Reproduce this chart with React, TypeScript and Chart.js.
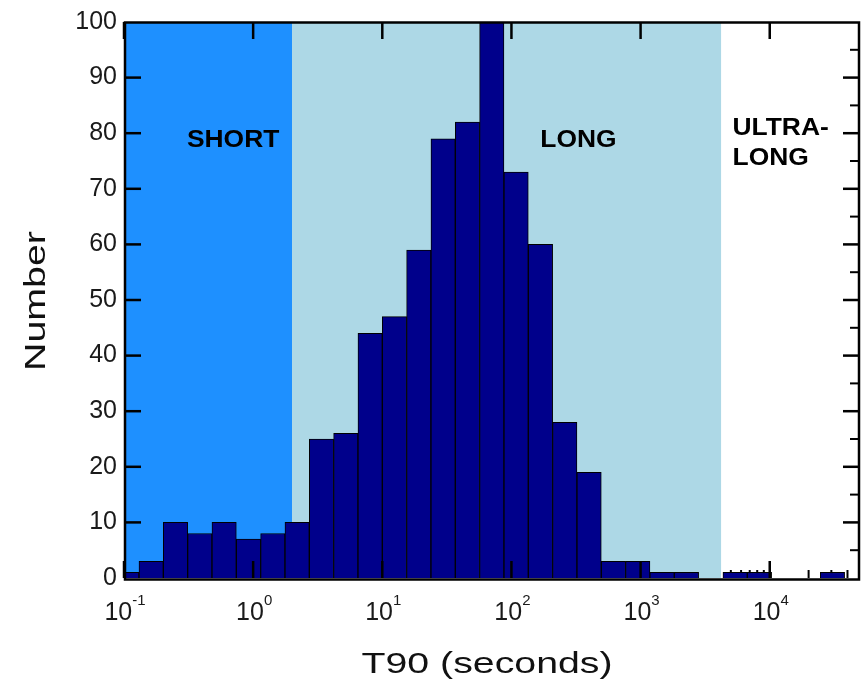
import { useEffect, useRef } from "react";
import { Chart, registerables } from "chart.js";

Chart.register(...registerables);

// Histogram bin edges, in log10(T90 / s)
const binEdgesLog10 = [
  -1.0724, -0.884, -0.6956, -0.5072, -0.3188, -0.1304, 0.058, 0.2464, 0.4348,
  0.6232, 0.8116, 1.0, 1.1884, 1.3768, 1.5652, 1.7536, 1.942, 2.1304, 2.3188,
  2.5072, 2.6956, 2.884, 3.0724, 3.2608, 3.4492, 3.6376, 3.826, 4.0144, 4.2028,
  4.3912, 4.5796, 4.768,
];
// Number of bursts in each bin
const counts = [
  1, 3, 10, 8, 10, 7, 8, 10, 25, 26, 44, 47, 59, 79, 82, 100, 73, 60, 28, 19, 3,
  3, 1, 1, 0, 1, 1, 0, 0, 1, 0,
];
const xTickExponents = [-1, 0, 1, 2, 3, 4];
const X_MIN = 0.1;
const X_MAX = 50000;
const Y_MIN = 0;
const Y_MAX = 100;
const Y_STEP = 10;
const SHORT_MAX_S = 2;
const LONG_MAX_S = 4200;
const regionLabels = [
  { text: "SHORT", x: 0.7, y: 77.5, align: "center" },
  { text: "LONG", x: 330, y: 77.5, align: "center" },
  { text: "ULTRA-", x: 5150, y: 79.7, align: "left" },
  { text: "LONG", x: 5150, y: 74.3, align: "left" },
];
const xTitle = "T90 (seconds)";
const yTitle = "Number";

const FONT = '"Liberation Sans", Arial, sans-serif';

function line(ctx: CanvasRenderingContext2D, x1: number, y1: number, x2: number, y2: number) {
  ctx.beginPath();
  ctx.moveTo(x1, y1);
  ctx.lineTo(x2, y2);
  ctx.stroke();
}

const decorPlugin = {
  id: "decor",
  beforeDatasetsDraw(chart: any) {
    const { ctx, chartArea: a, scales } = chart;
    const x = scales.x;
    const y = scales.y;
    ctx.save();
    ctx.strokeStyle = "#000";
    ctx.lineWidth = 2;
    // minor ticks (drawn beneath the shaded regions)
    for (const e of xTickExponents) {
      for (let m = 2; m <= 9; m++) {
        const v = m * Math.pow(10, e);
        if (v >= X_MAX) break;
        const px = x.getPixelForValue(v);
        line(ctx, px, a.bottom, px, a.bottom - 8);
      }
    }
    for (let v = Y_MIN + Y_STEP / 2; v < Y_MAX; v += Y_STEP) {
      const py = y.getPixelForValue(v);
      line(ctx, a.right, py, a.right - 10, py);
    }
    // shaded regions
    const xs = x.getPixelForValue(SHORT_MAX_S);
    const xl = x.getPixelForValue(LONG_MAX_S);
    ctx.fillStyle = "#1E90FF";
    ctx.fillRect(a.left, a.top, xs - a.left, a.height);
    ctx.fillStyle = "#ADD8E6";
    ctx.fillRect(xs, a.top, xl - xs, a.height);
    ctx.restore();
  },
  afterDatasetsDraw(chart: any) {
    const { ctx, chartArea: a, scales } = chart;
    const x = scales.x;
    const y = scales.y;
    ctx.save();
    ctx.strokeStyle = "#000";
    ctx.lineWidth = 2.5;
    // major ticks
    for (const e of xTickExponents) {
      const px = x.getPixelForValue(Math.pow(10, e));
      line(ctx, px, a.bottom, px, a.bottom - 17);
      line(ctx, px, a.top, px, a.top + 17);
    }
    for (let v = Y_MIN + Y_STEP; v < Y_MAX; v += Y_STEP) {
      const py = y.getPixelForValue(v);
      line(ctx, a.left, py, a.left + 17, py);
      line(ctx, a.right, py, a.right - 17, py);
    }
    // frame
    ctx.lineWidth = 2.5;
    ctx.strokeRect(a.left + 1, a.top + 0.5, a.width - 2, a.height + 1);

    // region labels
    ctx.fillStyle = "#000";
    ctx.font = `bold 24px ${FONT}`;
    ctx.textBaseline = "alphabetic";
    for (const r of regionLabels) {
      const px = x.getPixelForValue(r.x);
      const py = y.getPixelForValue(r.y);
      ctx.save();
      ctx.translate(px, py);
      ctx.scale(1.1, 1);
      ctx.textAlign = r.align as CanvasTextAlign;
      ctx.fillText(r.text, 0, 0);
      ctx.restore();
    }

    // x tick labels 10^n
    ctx.fillStyle = "#1a1a1a";
    ctx.textAlign = "left";
    for (const e of xTickExponents) {
      const px = x.getPixelForValue(Math.pow(10, e));
      ctx.font = `25px ${FONT}`;
      const w1 = ctx.measureText("10").width;
      ctx.font = `15px ${FONT}`;
      const sup = String(e);
      const w2 = ctx.measureText(sup).width;
      const start = px - (w1 + w2) / 2 + 1;
      ctx.font = `25px ${FONT}`;
      ctx.fillText("10", start, a.bottom + 42);
      ctx.font = `15px ${FONT}`;
      ctx.fillText(sup, start + w1, a.bottom + 27);
    }

    // axis titles
    ctx.fillStyle = "#111";
    ctx.font = `30px ${FONT}`;
    ctx.textAlign = "center";
    ctx.save();
    ctx.translate((a.left + a.right) / 2 - 5, a.bottom + 95);
    ctx.scale(1.31, 1);
    ctx.fillText(xTitle, 0, 0);
    ctx.restore();
    ctx.save();
    ctx.translate(45, (a.top + a.bottom) / 2 + 1);
    ctx.rotate(-Math.PI / 2);
    ctx.scale(1.31, 1);
    ctx.fillText(yTitle, 0, 0);
    ctx.restore();
    ctx.restore();
  },
};

export default function App() {
  const ref = useRef<HTMLCanvasElement | null>(null);
  useEffect(() => {
    document.body.style.margin = "0";
    const canvas = ref.current;
    if (!canvas) return;
    const data = counts.map((c, i) => ({
      x: Math.pow(10, (binEdgesLog10[i] + binEdgesLog10[i + 1]) / 2),
      y: c,
    }));
    const chart = new Chart(canvas, {
      type: "bar",
      data: {
        datasets: [
          {
            label: "Number",
            data,
            backgroundColor: "#00008B",
            borderColor: "#000",
            borderWidth: 1,
            barPercentage: 1,
            categoryPercentage: 1,
            clip: 0,
          } as any,
        ],
      },
      options: {
        responsive: false,
        animation: false,
        devicePixelRatio: 1,
        layout: { padding: { left: 0, right: 8, top: 20, bottom: 0 } },
        plugins: { legend: { display: false }, tooltip: { enabled: false }, title: { display: false } },
        scales: {
          x: {
            type: "logarithmic",
            min: X_MIN,
            max: X_MAX,
            grid: { display: false, drawTicks: false },
            border: { display: false },
            ticks: { display: false },
            afterBuildTicks: (scale: any) => {
              scale.ticks = xTickExponents.map((e) => ({ value: Math.pow(10, e), major: true }));
            },
            afterFit: (scale: any) => {
              scale.height = 108;
            },
          },
          y: {
            type: "linear",
            min: Y_MIN,
            max: Y_MAX,
            grid: { display: false, drawTicks: false },
            border: { display: false },
            ticks: {
              stepSize: Y_STEP,
              padding: 7,
              color: "#1a1a1a",
              font: { family: FONT, size: 25 },
            },
            afterFit: (scale: any) => {
              scale.width = 124;
            },
          },
        },
      },
      plugins: [decorPlugin],
    });
    return () => chart.destroy();
  }, []);
  return <canvas ref={ref} width={868} height={686} style={{ display: "block" }} />;
}
